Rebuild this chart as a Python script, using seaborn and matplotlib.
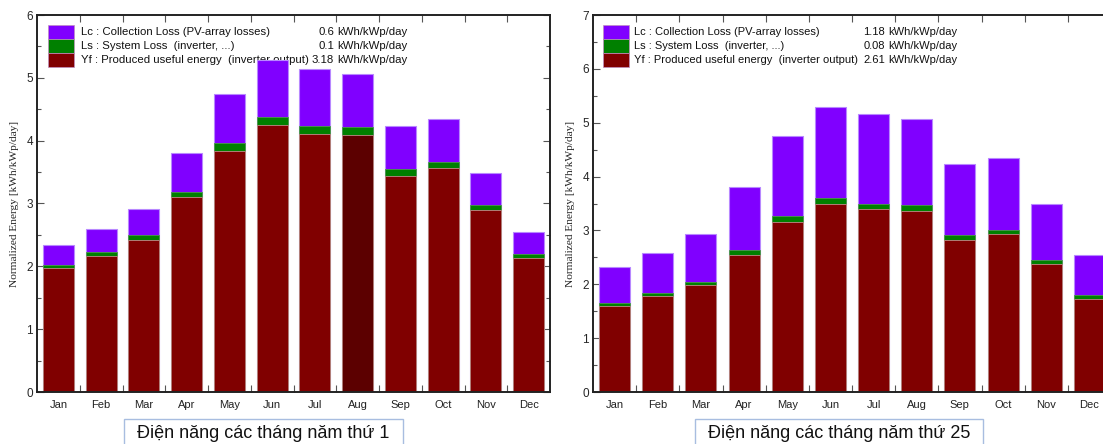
import numpy as np
import pandas as pd
import matplotlib
matplotlib.use("Agg")
import matplotlib.pyplot as plt
import seaborn as sns

months = ["Jan", "Feb", "Mar", "Apr", "May", "Jun", "Jul", "Aug", "Sep", "Oct", "Nov", "Dec"]

# Year 1
yf_y1 = [1.97, 2.17, 2.42, 3.10, 3.84, 4.25, 4.11, 4.09, 3.44, 3.56, 2.90, 2.13]
ls_y1 = [0.05, 0.06, 0.08, 0.09, 0.12, 0.12, 0.13, 0.12, 0.11, 0.10, 0.08, 0.07]
lc_y1 = [0.32, 0.36, 0.42, 0.62, 0.79, 0.91, 0.90, 0.85, 0.69, 0.69, 0.51, 0.34]

# Year 25
yf_y25 = [1.60, 1.78, 1.98, 2.54, 3.16, 3.49, 3.39, 3.36, 2.83, 2.93, 2.38, 1.73]
ls_y25 = [0.06, 0.05, 0.07, 0.10, 0.10, 0.11, 0.10, 0.11, 0.09, 0.08, 0.07, 0.07]
lc_y25 = [0.67, 0.76, 0.88, 1.16, 1.50, 1.70, 1.67, 1.60, 1.32, 1.34, 1.04, 0.74]

legend_labels = ["Lc : Collection Loss (PV-array losses)",
                 "Ls : System Loss  (inverter, ...)",
                 "Yf : Produced useful energy  (inverter output)"]
legend_vals_y1 = ["0.6", "0.1", "3.18"]
legend_vals_y25 = ["1.18", "0.08", "2.61"]
unit = "kWh/kWp/day"
captions = ["Điện năng các tháng năm thứ 1", "Điện năng các tháng năm thứ 25"]
ylabel = "Normalized Energy [kWh/kWp/day]"
ymax = [6, 7]

C_LC = "#8000ff"
C_LS = "#008000"
C_YF = "#800000"
C_YF_HI = "#5c0000"

sns.set_theme(style="white")
plt.rcParams["font.family"] = ["Liberation Sans", "DejaVu Sans"]

W, H = 1103, 444
fig = plt.figure(figsize=(W / 100, H / 100), dpi=100)


def fx(px):
    return px / W


def fy(py):
    return 1 - py / H


def draw(ax, yf, ls, lc, vals, top, highlight, legend_num_x, legend_unit_x, ax_left_px, text_off, fs):
    df = pd.DataFrame({"month": months, "yf": yf, "ls": ls, "lc": lc})
    df["t_ls"] = df["yf"] + df["ls"]
    df["t_lc"] = df["t_ls"] + df["lc"]
    sns.barplot(data=df, x="month", y="t_lc", color=C_LC, saturation=1, width=0.72,
                edgecolor="#b888ff", linewidth=0.8, ax=ax)
    sns.barplot(data=df, x="month", y="t_ls", color=C_LS, saturation=1, width=0.72,
                edgecolor="#4a9a4a", linewidth=0.6, ax=ax)
    pal = [C_YF_HI if (highlight and m == "Aug") else C_YF for m in months]
    sns.barplot(data=df, x="month", y="yf", hue="month", palette=pal, saturation=1,
                width=0.72, edgecolor="#c08a8a", linewidth=0.6, legend=False, ax=ax)
    ax.set_xlim(-0.5, 11.5)
    ax.set_ylim(0, top)
    ax.set_xlabel("")
    ax.set_ylabel(ylabel, family=["Liberation Serif", "DejaVu Serif"], fontsize=8.2, color="#222222", labelpad=5)
    ax.set_yticks(np.arange(0, top + 1, 1))
    ax.set_yticks(np.arange(0.5, top, 1), minor=True)
    ax.set_xticks(np.arange(12))
    ax.set_xticklabels(months)
    ax.set_xticks(np.arange(0.5, 11, 1), minor=True)
    ax.tick_params(axis="x", which="major", length=0, labelsize=8, pad=6, colors="#222222")
    ax.tick_params(axis="x", which="minor", length=5, direction="in", top=True, bottom=True, width=0.8, color="#555555")
    ax.tick_params(axis="y", which="major", length=5, direction="in", left=True, right=True, labelsize=8.5,
                   pad=3, width=0.8, color="#555555")
    ax.tick_params(axis="y", which="minor", length=3, direction="in", left=True, right=True, width=0.8, color="#555555")
    for s in ax.spines.values():
        s.set_visible(True)
        s.set_color("#222222")
        s.set_linewidth(1.4)
    # legend-like block (text drawn beneath the bars, as in the original)
    colors = [C_LC, C_LS, C_YF]
    rows_y = [32, 46, 60]
    for i in range(3):
        x0 = ax_left_px + 11
        ax.add_patch(plt.Rectangle((fx(x0), fy(rows_y[i] + 7)), fx(26), 14 / H, transform=fig.transFigure,
                                   facecolor=colors[i], edgecolor="#c090c0", linewidth=0.5, clip_on=False))
        ax.text(fx(x0 + text_off), fy(rows_y[i]), legend_labels[i], fontsize=fs, va="center", ha="left",
                color="#111111", transform=fig.transFigure, zorder=0.5)
        ax.text(fx(legend_num_x), fy(rows_y[i]), vals[i], fontsize=fs, va="center", ha="right",
                color="#111111", transform=fig.transFigure, zorder=0.5)
        ax.text(fx(legend_unit_x), fy(rows_y[i]), unit, fontsize=fs, va="center", ha="left",
                color="#111111", transform=fig.transFigure, zorder=0.5)


ax1 = fig.add_axes([fx(37), fy(392), fx(513), (392 - 15) / H])
draw(ax1, yf_y1, ls_y1, lc_y1, legend_vals_y1, ymax[0], True, 334, 337, 37, 33, 8.2)
ax2 = fig.add_axes([fx(593), fy(392), fx(518), (392 - 15) / H])
draw(ax2, yf_y25, ls_y25, lc_y25, legend_vals_y25, ymax[1], False, 885, 888, 592, 31, 8.0)

# captions with boxes
for (cx, bx0, bx1, txt) in [(263, 124, 403, captions[0]), (839, 695, 983, captions[1])]:
    fig.patches.append(plt.Rectangle((fx(bx0), fy(450)), fx(bx1 - bx0), 31 / H, transform=fig.transFigure,
                                     facecolor="white", edgecolor="#a8bde0", linewidth=1.0))
    fig.text(fx(cx), fy(433), txt, fontsize=13, ha="center", va="center", color="#111111")

fig.savefig("out.png", dpi=100)
